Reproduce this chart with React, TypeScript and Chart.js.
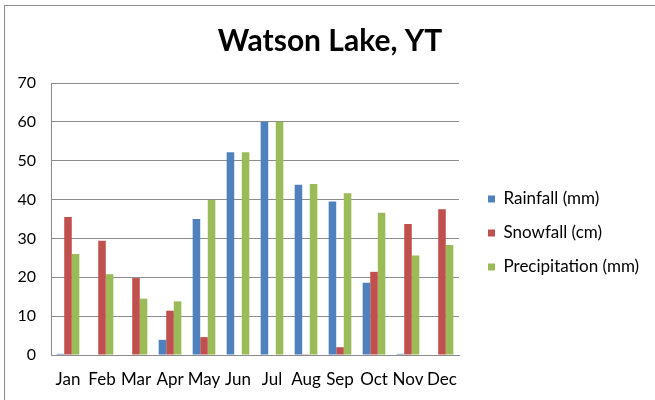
import React, { useEffect, useRef } from 'react';
import { Chart, registerables } from 'chart.js';

Chart.register(...registerables);

const chartTitle = 'Watson Lake, YT';
const categories = ['Jan', 'Feb', 'Mar', 'Apr', 'May', 'Jun', 'Jul', 'Aug', 'Sep', 'Oct', 'Nov', 'Dec'];
const rainfall = [0.3, 0, 0, 3.9, 35.0, 52.2, 60.0, 43.8, 39.5, 18.6, 0.3, 0];
const snowfall = [35.5, 29.4, 19.8, 11.4, 4.6, 0, 0, 0.2, 2.0, 21.4, 33.7, 37.5];
const precipitation = [26.0, 20.8, 14.5, 13.8, 39.9, 52.2, 60.0, 44.0, 41.6, 36.6, 25.6, 28.3];
const seriesNames = ['Rainfall (mm)', 'Snowfall (cm)', 'Precipitation (mm)'];
const seriesColors = ['#4F81BD', '#C0504D', '#9BBB59'];
const yMin = 0;
const yMax = 70;
const yStep = 10;

const W = 650;
const H = 395;
const FONT = 'Lato, Carlito, Calibri, "Open Sans", sans-serif';
const GRID = '#8c8c8c';

const legendPlacer = {
  id: 'legendPlacer',
  beforeLayout(chart: any) {
    const lg = chart.legend;
    if (lg && !lg.__patched) {
      const orig = lg.fit.bind(lg);
      lg.fit = function () {
        orig();
        this.width = 196;
      };
      lg.__patched = true;
    }
  },
  afterLayout(chart: any) {
    const lg = chart.legend;
    if (!lg) return;
    lg.left = 466;
    lg.right = W;
    lg.width = W - 466;
    lg.top = 91;
    lg.bottom = 363;
    lg.height = 363 - 91;
  },
};

export default function App() {
  const ref = useRef<HTMLCanvasElement>(null);
  useEffect(() => {
    if (!ref.current) return;
    const data = [rainfall, snowfall, precipitation];
    const chart = new Chart(ref.current, {
      type: 'bar',
      data: {
        labels: categories,
        datasets: data.map((d, i) => ({
          label: seriesNames[i],
          data: d,
          backgroundColor: seriesColors[i],
          borderWidth: 0,
          categoryPercentage: 0.6667,
          barPercentage: 1,
        })),
      },
      options: {
        responsive: false,
        animation: false,
        devicePixelRatio: 1,
        layout: { padding: 0 },
        plugins: {
          title: {
            display: true,
            text: chartTitle,
            color: '#000',
            font: { family: FONT, size: 30, weight: 'bold', lineHeight: 1.2 },
            padding: { top: 17, bottom: 24 },
          },
          legend: {
            display: true,
            position: 'right',
            align: 'center',
            labels: {
              boxWidth: 7,
              boxHeight: 7,
              padding: 17,
              color: '#000',
              font: { family: FONT, size: 17 },
            },
          },
          tooltip: { enabled: false },
        },
        scales: {
          x: {
            grid: { display: false, drawTicks: false },
            border: { display: true, color: GRID, width: 1 },
            ticks: {
              color: '#000',
              font: { family: FONT, size: 17 },
              padding: 14,
              maxRotation: 0,
              autoSkip: false,
            },
            afterFit(scale: any) {
              scale.height = 46;
            },
          },
          y: {
            min: yMin,
            max: yMax,
            grid: { color: GRID, lineWidth: 1, drawTicks: false },
            border: { display: true, color: GRID, width: 1 },
            ticks: {
              stepSize: yStep,
              color: '#000',
              font: { family: FONT, size: 16 },
              padding: 15,
            },
            afterFit(scale: any) {
              scale.width = 46;
            },
          },
        },
      } as any,
      plugins: [legendPlacer],
    });
    return () => chart.destroy();
  }, []);

  return (
    <div
      style={{
        position: 'absolute',
        left: 4,
        top: 5,
        width: W,
        height: H,
        borderLeft: `1px solid ${GRID}`,
        borderTop: `1px solid ${GRID}`,
        background: '#fff',
      }}
    >
      <canvas ref={ref} width={W} height={H} style={{ display: 'block', width: W, height: H }} />
    </div>
  );
}
